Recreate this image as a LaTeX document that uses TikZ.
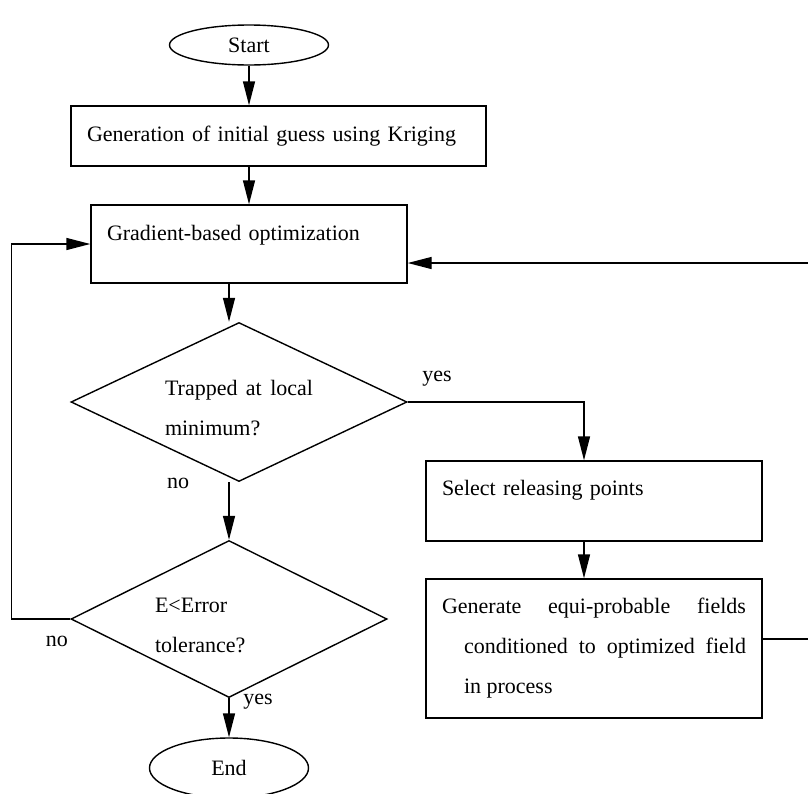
\documentclass[tikz,border=0pt]{standalone}
\usepackage{fontspec}
\setmainfont{Liberation Serif}
\usepackage{tikz}
\usetikzlibrary{positioning, arrows.meta, calc, shapes.geometric}

\begin{document}
\begin{tikzpicture}[x=0.5pt, y=-0.5pt,
    font=\fontsize{11pt}{20pt}\selectfont,
    every node/.style={inner sep=0pt},
    box/.style={draw, line width=0.7pt, inner xsep=8pt, align=left},
    term/.style={draw, ellipse, line width=0.7pt, minimum width=79.5pt},
    decide/.style={draw, diamond, aspect=2.1, line width=0.7pt, align=justify,
                   text width=74pt, text height=13.5pt},
    arr/.style={line width=0.7pt, -{Triangle[length=12pt, width=6pt]}}]
  \useasboundingbox (0,0) rectangle (808,793);

  % terminals
  \node[term, minimum height=20pt] (start) at (249,45) {Start};
  \node[term, minimum height=30pt] (end) at (229,768) {End};

  % main column
  \node[box, text width=191.5pt, minimum height=30pt] (init) at (278.5,136)
    {Generation of initial guess using Kriging};
  \node[box, text width=142pt, minimum height=39pt, text depth=11.5pt] (grad) at (249,244)
    {Gradient-based optimization};
  \node[decide, minimum width=168pt, minimum height=79.5pt] (dtrap) at (239,402)
    {Trapped at local minimum?};
  \node[decide, minimum width=158pt, minimum height=78.5pt] (dtol) at (229,619)
    {E<Error\\tolerance?};

  % restart branch
  \node[box, text width=152pt, minimum height=40pt, text depth=13.5pt] (sel) at (594,501)
    {Select releasing points};
  \node[box, text width=152pt, minimum height=69.5pt, align=justify] (gen) at (594,648.5)
    {\hyphenpenalty=10000\hangindent=11pt\hangafter=1
     Generate equi-probable fields\linebreak conditioned to optimized field\linebreak in process\par};

  % branch labels
  \node (yes1) at (437,379) {yes};
  \node (no1) at (178,483) {no};
  \node (no2) at (57,641) {no};
  \node (yes2) at (258,702) {yes};

  \draw[arr] (start) -- (start |- init.north);
  \draw[arr] (grad |- init.south) -- (grad.north);
  \draw[arr] (grad.south -| dtol) -- (dtol |- dtrap.north);
  \draw[arr] (dtrap.south -| dtol) -- (dtol.north);
  \draw[arr] (dtol) -- (end);
  \draw[arr] (dtrap.east) -| ([xshift=-5pt]sel.north);
  \draw[arr] ([xshift=-5pt]sel.south) -- ([xshift=-5pt]gen.north);
  \draw[arr] ([yshift=4.75pt]gen.east) -- ++(24pt,0pt) |- ([yshift=-9.5pt]grad.east);
  \draw[arr] (dtol.west) -- ++(-29.5pt,0pt) |- (grad.west);
\end{tikzpicture}
\end{document}
